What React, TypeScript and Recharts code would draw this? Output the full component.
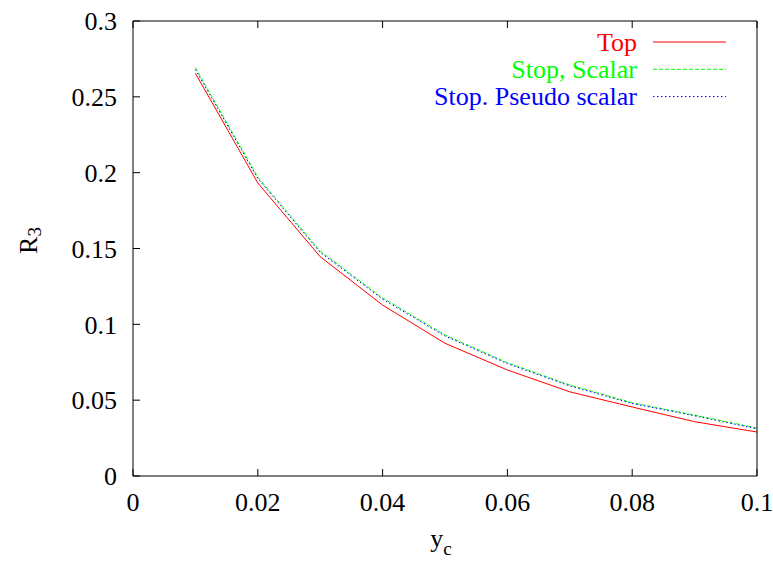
import { LineChart, Line, XAxis, YAxis, Legend, Label } from 'recharts';

const ycValues = [0.01, 0.02, 0.03, 0.04, 0.05, 0.06, 0.07, 0.08, 0.09, 0.1];
const topValues = [0.2655, 0.1932, 0.1446, 0.1127, 0.0875, 0.0699, 0.0555, 0.0455, 0.0358, 0.029];
const stopScalarValues = [0.2692, 0.1971, 0.1483, 0.1174, 0.093, 0.0747, 0.06, 0.0483, 0.0402, 0.0316];
const stopPseudoValues = [0.268, 0.1962, 0.1475, 0.1166, 0.0923, 0.0741, 0.0594, 0.0478, 0.0397, 0.0311];
const xTicks = [0, 0.02, 0.04, 0.06, 0.08, 0.1];
const yTicks = [0, 0.05, 0.1, 0.15, 0.2, 0.25, 0.3];

const FONT = "'Liberation Serif', 'Times New Roman', Tinos, 'DejaVu Serif', serif";

const series = [
  { key: 'top', name: 'Top', color: '#ff0000', dash: undefined as string | undefined },
  { key: 'scalar', name: 'Stop, Scalar', color: '#00ff00', dash: '4 2' },
  { key: 'pseudo', name: 'Stop. Pseudo scalar', color: '#0000ff', dash: '1.5 2.5' },
];

const data = ycValues.map((yc, i) => ({
  yc,
  top: topValues[i],
  scalar: stopScalarValues[i],
  pseudo: stopPseudoValues[i],
}));

const tickStyle = { fontSize: 26, fill: '#000', style: { fontFamily: FONT } };

// gnuplot-like key: label on the left, line sample on the right
const renderLegend = () => (
  <svg width={360} height={90} style={{ display: 'block', overflow: 'visible', fontFamily: FONT }}>
    {series.map((s, i) => (
      <g key={s.key}>
        <text x={257} y={26 + i * 27} textAnchor="end" fill={s.color} fontSize={26} style={{ fontFamily: FONT }}>
          {s.name}
        </text>
        <line x1={273} x2={346} y1={17 + i * 27.3} y2={17 + i * 27.3} stroke={s.color} strokeWidth={1} strokeDasharray={s.dash} />
      </g>
    ))}
  </svg>
);

const XTitle = (props: any) => {
  const vb = props.viewBox || { x: 133, y: 476, width: 624 };
  return (
    <text x={vb.x + vb.width / 2 - 4} y={vb.y + 71} textAnchor="middle" fontSize={26} style={{ fontFamily: FONT }} fill="#000">
      y<tspan dy={8} fontSize={19}>c</tspan>
    </text>
  );
};

const YTitle = (props: any) => {
  const vb = props.viewBox || { x: 73, y: 21, height: 455 };
  const cx = vb.x - 36;
  const cy = vb.y + vb.height / 2 - 8;
  return (
    <text x={cx} y={cy} transform={`rotate(-90 ${cx} ${cy})`} textAnchor="middle" fontSize={26} style={{ fontFamily: FONT }} fill="#000">
      R<tspan dy={4} fontSize={19}>3</tspan>
    </text>
  );
};

export default function App() {
  return (
    <div style={{ position: 'absolute', left: 0, top: 0, background: '#fff', fontFamily: FONT }}>
      <LineChart width={773} height={561} data={data} margin={{ top: 11, right: 6, bottom: 55, left: 73 }} style={{ fontFamily: FONT }}>
        <XAxis
          dataKey="yc"
          type="number"
          domain={[0, 0.1]}
          ticks={xTicks}
          interval={0}
          tick={tickStyle}
          tickFormatter={(v) => String(v)}
          tickSize={-7}
          tickMargin={24}
          height={30}
          axisLine={{ stroke: '#000' }}
          tickLine={{ stroke: '#000' }}
        >
          <Label content={XTitle} />
        </XAxis>
        <XAxis
          xAxisId="top"
          orientation="top"
          dataKey="yc"
          type="number"
          domain={[0, 0.1]}
          ticks={xTicks}
          interval={0}
          tickFormatter={() => ''}
          tickSize={-7}
          height={10}
          axisLine={{ stroke: '#000' }}
          tickLine={{ stroke: '#000' }}
        />
        <YAxis
          type="number"
          domain={[0, 0.3]}
          ticks={yTicks}
          interval={0}
          tick={tickStyle}
          tickFormatter={(v) => String(v)}
          tickSize={-7}
          tickMargin={23}
          width={60}
          axisLine={{ stroke: '#000' }}
          tickLine={{ stroke: '#000' }}
        >
          <Label content={YTitle} />
        </YAxis>
        <YAxis
          yAxisId="right"
          orientation="right"
          type="number"
          domain={[0, 0.3]}
          ticks={yTicks}
          interval={0}
          tickFormatter={() => ''}
          tickSize={-7}
          width={10}
          axisLine={{ stroke: '#000' }}
          tickLine={{ stroke: '#000' }}
        />
        <Legend
          layout="horizontal"
          verticalAlign="middle"
          align="center"
          content={renderLegend}
          wrapperStyle={{ position: 'absolute', left: 380, top: 25, width: 360, height: 90 }}
        />
        {series.map((s) => (
          <Line
            key={s.key}
            type="linear"
            dataKey={s.key}
            name={s.name}
            stroke={s.color}
            strokeWidth={1}
            strokeDasharray={s.dash}
            dot={false}
            activeDot={false}
            isAnimationActive={false}
          />
        ))}
      </LineChart>
    </div>
  );
}
